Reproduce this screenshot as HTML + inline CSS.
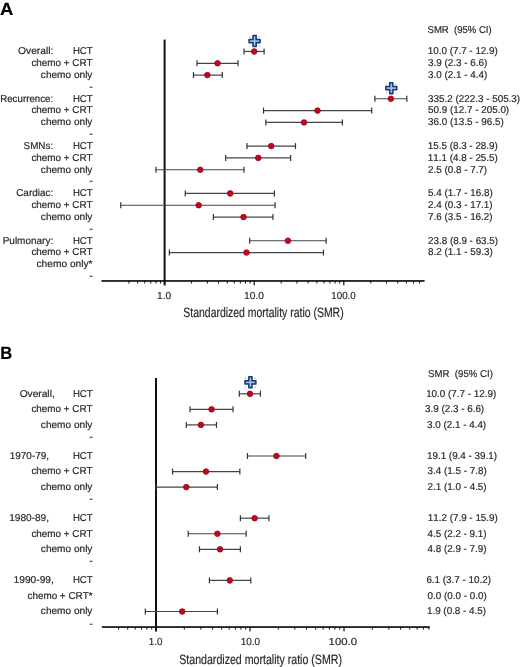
<!DOCTYPE html>
<html><head><meta charset="utf-8"><style>
html,body{margin:0;padding:0;background:#fff;width:520px;height:667px;overflow:hidden}
svg{filter:blur(0.3px)}
body{position:relative;font-family:"Liberation Sans",sans-serif}
svg text{font-family:"Liberation Sans",sans-serif;white-space:pre;font-kerning:none;text-rendering:geometricPrecision}
</style></head><body>
<svg width="520" height="667" viewBox="0 0 520 667" style="position:absolute;left:0;top:0">
<text x="0.04" y="14.60" font-size="17.6" textLength="13.35" lengthAdjust="spacingAndGlyphs" font-weight="bold" fill="#000" stroke="#000" stroke-width="0.2">A</text>
<text x="0.19" y="358.60" font-size="17.8" textLength="11.96" lengthAdjust="spacingAndGlyphs" font-weight="bold" fill="#000" stroke="#000" stroke-width="0.2">B</text>
<rect x="163.60" y="39.60" width="2" height="245.70" fill="#111"/>
<rect x="101.50" y="280.10" width="323.10" height="1.7" fill="#111"/>
<rect x="128.44" y="280.90" width="1" height="2.6" fill="#111"/>
<rect x="137.13" y="280.90" width="1" height="2.6" fill="#111"/>
<rect x="144.22" y="280.90" width="1" height="2.6" fill="#111"/>
<rect x="150.22" y="280.90" width="1" height="2.6" fill="#111"/>
<rect x="155.42" y="280.90" width="1" height="2.6" fill="#111"/>
<rect x="160.00" y="280.90" width="1" height="2.6" fill="#111"/>
<rect x="164.00" y="280.90" width="1.2" height="4.4" fill="#111"/>
<rect x="191.07" y="280.90" width="1" height="2.6" fill="#111"/>
<rect x="206.85" y="280.90" width="1" height="2.6" fill="#111"/>
<rect x="218.04" y="280.90" width="1" height="2.6" fill="#111"/>
<rect x="226.73" y="280.90" width="1" height="2.6" fill="#111"/>
<rect x="233.82" y="280.90" width="1" height="2.6" fill="#111"/>
<rect x="239.82" y="280.90" width="1" height="2.6" fill="#111"/>
<rect x="245.02" y="280.90" width="1" height="2.6" fill="#111"/>
<rect x="249.60" y="280.90" width="1" height="2.6" fill="#111"/>
<rect x="253.60" y="280.90" width="1.2" height="4.4" fill="#111"/>
<rect x="280.67" y="280.90" width="1" height="2.6" fill="#111"/>
<rect x="296.45" y="280.90" width="1" height="2.6" fill="#111"/>
<rect x="307.64" y="280.90" width="1" height="2.6" fill="#111"/>
<rect x="316.33" y="280.90" width="1" height="2.6" fill="#111"/>
<rect x="323.42" y="280.90" width="1" height="2.6" fill="#111"/>
<rect x="329.42" y="280.90" width="1" height="2.6" fill="#111"/>
<rect x="334.62" y="280.90" width="1" height="2.6" fill="#111"/>
<rect x="339.20" y="280.90" width="1" height="2.6" fill="#111"/>
<rect x="343.20" y="280.90" width="1.2" height="4.4" fill="#111"/>
<rect x="370.27" y="280.90" width="1" height="2.6" fill="#111"/>
<rect x="386.05" y="280.90" width="1" height="2.6" fill="#111"/>
<rect x="397.24" y="280.90" width="1" height="2.6" fill="#111"/>
<rect x="405.93" y="280.90" width="1" height="2.6" fill="#111"/>
<rect x="413.02" y="280.90" width="1" height="2.6" fill="#111"/>
<rect x="419.02" y="280.90" width="1" height="2.6" fill="#111"/>
<text x="157.02" y="298.60" font-size="10.2" textLength="14.18" lengthAdjust="spacingAndGlyphs" fill="#2a2a2a" stroke="#2a2a2a" stroke-width="0.2">1.0</text>
<text x="244.02" y="298.60" font-size="10.2" textLength="19.98" lengthAdjust="spacingAndGlyphs" fill="#2a2a2a" stroke="#2a2a2a" stroke-width="0.2">10.0</text>
<text x="331.25" y="298.60" font-size="10.2" textLength="24.53" lengthAdjust="spacingAndGlyphs" fill="#2a2a2a" stroke="#2a2a2a" stroke-width="0.2">100.0</text>
<text x="183.33" y="317.30" font-size="13.6" textLength="160.32" lengthAdjust="spacingAndGlyphs" fill="#2a2a2a" stroke="#2a2a2a" stroke-width="0.2">Standardized mortality ratio (SMR)</text>
<text x="427.57" y="33.10" font-size="10.0" textLength="64.02" lengthAdjust="spacingAndGlyphs" fill="#2a2a2a" stroke="#2a2a2a" stroke-width="0.2">SMR  (95% CI)</text>
<text x="72.91" y="54.25" font-size="10.0" textLength="19.71" lengthAdjust="spacingAndGlyphs" fill="#2a2a2a" stroke="#2a2a2a" stroke-width="0.2">HCT</text>
<line x1="244.03" y1="51.45" x2="264.11" y2="51.45" stroke="#444" stroke-width="1.2"/>
<line x1="244.03" y1="48.45" x2="244.03" y2="54.45" stroke="#333" stroke-width="1.2"/>
<line x1="264.11" y1="48.45" x2="264.11" y2="54.45" stroke="#333" stroke-width="1.2"/>
<circle cx="254.20" cy="51.45" r="2.8" fill="#c4061f" stroke="#95001a" stroke-width="0.8"/>
<path d="M253.00,35.60 L256.20,35.60 L256.20,39.50 L260.10,39.50 L260.10,42.70 L256.20,42.70 L256.20,46.60 L253.00,46.60 L253.00,42.70 L249.10,42.70 L249.10,39.50 L253.00,39.50 Z" fill="#6e95d2" stroke="#1c3a72" stroke-width="1.5" stroke-linejoin="round"/>
<path d="M254.60,36.60 V45.60 M250.10,41.10 H259.10" stroke="#b4cbf2" stroke-width="0.9" fill="none"/>
<circle cx="249.80" cy="36.90" r="0.55" fill="#4a5f86" opacity="0.7"/>
<circle cx="259.20" cy="36.90" r="0.55" fill="#4a5f86" opacity="0.7"/>
<circle cx="249.80" cy="45.70" r="0.55" fill="#4a5f86" opacity="0.7"/>
<circle cx="259.20" cy="45.90" r="0.55" fill="#4a5f86" opacity="0.7"/>
<text x="31.38" y="66.08" font-size="10.0" textLength="61.25" lengthAdjust="spacingAndGlyphs" fill="#2a2a2a" stroke="#2a2a2a" stroke-width="0.2">chemo + CRT</text>
<line x1="197.01" y1="63.28" x2="238.03" y2="63.28" stroke="#444" stroke-width="1.2"/>
<line x1="197.01" y1="60.28" x2="197.01" y2="66.28" stroke="#333" stroke-width="1.2"/>
<line x1="238.03" y1="60.28" x2="238.03" y2="66.28" stroke="#333" stroke-width="1.2"/>
<circle cx="217.56" cy="63.28" r="2.8" fill="#c4061f" stroke="#95001a" stroke-width="0.8"/>
<text x="40.87" y="77.91" font-size="10.0" textLength="51.55" lengthAdjust="spacingAndGlyphs" fill="#2a2a2a" stroke="#2a2a2a" stroke-width="0.2">chemo only</text>
<line x1="193.47" y1="75.11" x2="222.25" y2="75.11" stroke="#444" stroke-width="1.2"/>
<line x1="193.47" y1="72.11" x2="193.47" y2="78.11" stroke="#333" stroke-width="1.2"/>
<line x1="222.25" y1="72.11" x2="222.25" y2="78.11" stroke="#333" stroke-width="1.2"/>
<circle cx="207.35" cy="75.11" r="2.8" fill="#c4061f" stroke="#95001a" stroke-width="0.8"/>
<text x="89.56" y="89.74" font-size="10.0" textLength="3.28" lengthAdjust="spacingAndGlyphs" fill="#2a2a2a" stroke="#2a2a2a" stroke-width="0.2">-</text>
<text x="72.91" y="101.57" font-size="10.0" textLength="19.71" lengthAdjust="spacingAndGlyphs" fill="#2a2a2a" stroke="#2a2a2a" stroke-width="0.2">HCT</text>
<line x1="374.89" y1="98.77" x2="406.84" y2="98.77" stroke="#444" stroke-width="1.2"/>
<line x1="374.89" y1="95.77" x2="374.89" y2="101.77" stroke="#333" stroke-width="1.2"/>
<line x1="406.84" y1="95.77" x2="406.84" y2="101.77" stroke="#333" stroke-width="1.2"/>
<circle cx="390.87" cy="98.77" r="2.8" fill="#c4061f" stroke="#95001a" stroke-width="0.8"/>
<path d="M389.67,82.67 L392.87,82.67 L392.87,86.57 L396.77,86.57 L396.77,89.77 L392.87,89.77 L392.87,93.67 L389.67,93.67 L389.67,89.77 L385.77,89.77 L385.77,86.57 L389.67,86.57 Z" fill="#6e95d2" stroke="#1c3a72" stroke-width="1.5" stroke-linejoin="round"/>
<path d="M391.27,83.67 V92.67 M386.77,88.17 H395.77" stroke="#b4cbf2" stroke-width="0.9" fill="none"/>
<circle cx="386.47" cy="83.97" r="0.55" fill="#4a5f86" opacity="0.7"/>
<circle cx="395.87" cy="83.97" r="0.55" fill="#4a5f86" opacity="0.7"/>
<circle cx="386.47" cy="92.77" r="0.55" fill="#4a5f86" opacity="0.7"/>
<circle cx="395.87" cy="92.97" r="0.55" fill="#4a5f86" opacity="0.7"/>
<text x="31.38" y="113.40" font-size="10.0" textLength="61.25" lengthAdjust="spacingAndGlyphs" fill="#2a2a2a" stroke="#2a2a2a" stroke-width="0.2">chemo + CRT</text>
<line x1="263.50" y1="110.60" x2="371.73" y2="110.60" stroke="#444" stroke-width="1.2"/>
<line x1="263.50" y1="107.60" x2="263.50" y2="113.60" stroke="#333" stroke-width="1.2"/>
<line x1="371.73" y1="107.60" x2="371.73" y2="113.60" stroke="#333" stroke-width="1.2"/>
<circle cx="317.52" cy="110.60" r="2.8" fill="#c4061f" stroke="#95001a" stroke-width="0.8"/>
<text x="40.87" y="125.23" font-size="10.0" textLength="51.55" lengthAdjust="spacingAndGlyphs" fill="#2a2a2a" stroke="#2a2a2a" stroke-width="0.2">chemo only</text>
<line x1="265.88" y1="122.43" x2="342.41" y2="122.43" stroke="#444" stroke-width="1.2"/>
<line x1="265.88" y1="119.43" x2="265.88" y2="125.43" stroke="#333" stroke-width="1.2"/>
<line x1="342.41" y1="119.43" x2="342.41" y2="125.43" stroke="#333" stroke-width="1.2"/>
<circle cx="304.04" cy="122.43" r="2.8" fill="#c4061f" stroke="#95001a" stroke-width="0.8"/>
<text x="89.56" y="137.06" font-size="10.0" textLength="3.28" lengthAdjust="spacingAndGlyphs" fill="#2a2a2a" stroke="#2a2a2a" stroke-width="0.2">-</text>
<text x="72.91" y="148.89" font-size="10.0" textLength="19.71" lengthAdjust="spacingAndGlyphs" fill="#2a2a2a" stroke="#2a2a2a" stroke-width="0.2">HCT</text>
<line x1="246.95" y1="146.09" x2="295.50" y2="146.09" stroke="#444" stroke-width="1.2"/>
<line x1="246.95" y1="143.09" x2="246.95" y2="149.09" stroke="#333" stroke-width="1.2"/>
<line x1="295.50" y1="143.09" x2="295.50" y2="149.09" stroke="#333" stroke-width="1.2"/>
<circle cx="271.25" cy="146.09" r="2.8" fill="#c4061f" stroke="#95001a" stroke-width="0.8"/>
<text x="31.38" y="160.72" font-size="10.0" textLength="61.25" lengthAdjust="spacingAndGlyphs" fill="#2a2a2a" stroke="#2a2a2a" stroke-width="0.2">chemo + CRT</text>
<line x1="225.64" y1="157.92" x2="290.63" y2="157.92" stroke="#444" stroke-width="1.2"/>
<line x1="225.64" y1="154.92" x2="225.64" y2="160.92" stroke="#333" stroke-width="1.2"/>
<line x1="290.63" y1="154.92" x2="290.63" y2="160.92" stroke="#333" stroke-width="1.2"/>
<circle cx="258.26" cy="157.92" r="2.8" fill="#c4061f" stroke="#95001a" stroke-width="0.8"/>
<text x="40.87" y="172.55" font-size="10.0" textLength="51.55" lengthAdjust="spacingAndGlyphs" fill="#2a2a2a" stroke="#2a2a2a" stroke-width="0.2">chemo only</text>
<line x1="155.92" y1="169.75" x2="244.03" y2="169.75" stroke="#444" stroke-width="1.2"/>
<line x1="155.92" y1="166.75" x2="155.92" y2="172.75" stroke="#333" stroke-width="1.2"/>
<line x1="244.03" y1="166.75" x2="244.03" y2="172.75" stroke="#333" stroke-width="1.2"/>
<circle cx="200.26" cy="169.75" r="2.8" fill="#c4061f" stroke="#95001a" stroke-width="0.8"/>
<text x="89.56" y="184.38" font-size="10.0" textLength="3.28" lengthAdjust="spacingAndGlyphs" fill="#2a2a2a" stroke="#2a2a2a" stroke-width="0.2">-</text>
<text x="72.91" y="196.21" font-size="10.0" textLength="19.71" lengthAdjust="spacingAndGlyphs" fill="#2a2a2a" stroke="#2a2a2a" stroke-width="0.2">HCT</text>
<line x1="185.25" y1="193.41" x2="274.39" y2="193.41" stroke="#444" stroke-width="1.2"/>
<line x1="185.25" y1="190.41" x2="185.25" y2="196.41" stroke="#333" stroke-width="1.2"/>
<line x1="274.39" y1="190.41" x2="274.39" y2="196.41" stroke="#333" stroke-width="1.2"/>
<circle cx="230.22" cy="193.41" r="2.8" fill="#c4061f" stroke="#95001a" stroke-width="0.8"/>
<text x="31.38" y="208.04" font-size="10.0" textLength="61.25" lengthAdjust="spacingAndGlyphs" fill="#2a2a2a" stroke="#2a2a2a" stroke-width="0.2">chemo + CRT</text>
<line x1="120.74" y1="205.24" x2="275.08" y2="205.24" stroke="#444" stroke-width="1.2"/>
<line x1="120.74" y1="202.24" x2="120.74" y2="208.24" stroke="#333" stroke-width="1.2"/>
<line x1="275.08" y1="202.24" x2="275.08" y2="208.24" stroke="#333" stroke-width="1.2"/>
<circle cx="198.67" cy="205.24" r="2.8" fill="#c4061f" stroke="#95001a" stroke-width="0.8"/>
<text x="40.87" y="219.87" font-size="10.0" textLength="51.55" lengthAdjust="spacingAndGlyphs" fill="#2a2a2a" stroke="#2a2a2a" stroke-width="0.2">chemo only</text>
<line x1="213.35" y1="217.07" x2="272.97" y2="217.07" stroke="#444" stroke-width="1.2"/>
<line x1="213.35" y1="214.07" x2="213.35" y2="220.07" stroke="#333" stroke-width="1.2"/>
<line x1="272.97" y1="214.07" x2="272.97" y2="220.07" stroke="#333" stroke-width="1.2"/>
<circle cx="243.52" cy="217.07" r="2.8" fill="#c4061f" stroke="#95001a" stroke-width="0.8"/>
<text x="89.56" y="231.70" font-size="10.0" textLength="3.28" lengthAdjust="spacingAndGlyphs" fill="#2a2a2a" stroke="#2a2a2a" stroke-width="0.2">-</text>
<text x="72.91" y="243.53" font-size="10.0" textLength="19.71" lengthAdjust="spacingAndGlyphs" fill="#2a2a2a" stroke="#2a2a2a" stroke-width="0.2">HCT</text>
<line x1="249.67" y1="240.73" x2="326.13" y2="240.73" stroke="#444" stroke-width="1.2"/>
<line x1="249.67" y1="237.73" x2="249.67" y2="243.73" stroke="#333" stroke-width="1.2"/>
<line x1="326.13" y1="237.73" x2="326.13" y2="243.73" stroke="#333" stroke-width="1.2"/>
<circle cx="287.94" cy="240.73" r="2.8" fill="#c4061f" stroke="#95001a" stroke-width="0.8"/>
<text x="31.38" y="255.36" font-size="10.0" textLength="61.25" lengthAdjust="spacingAndGlyphs" fill="#2a2a2a" stroke="#2a2a2a" stroke-width="0.2">chemo + CRT</text>
<line x1="169.36" y1="252.56" x2="323.47" y2="252.56" stroke="#444" stroke-width="1.2"/>
<line x1="169.36" y1="249.56" x2="169.36" y2="255.56" stroke="#333" stroke-width="1.2"/>
<line x1="323.47" y1="249.56" x2="323.47" y2="255.56" stroke="#333" stroke-width="1.2"/>
<circle cx="246.48" cy="252.56" r="2.8" fill="#c4061f" stroke="#95001a" stroke-width="0.8"/>
<text x="36.47" y="267.19" font-size="10.0" textLength="56.09" lengthAdjust="spacingAndGlyphs" fill="#2a2a2a" stroke="#2a2a2a" stroke-width="0.2">chemo only*</text>
<text x="89.56" y="279.02" font-size="10.0" textLength="3.28" lengthAdjust="spacingAndGlyphs" fill="#2a2a2a" stroke="#2a2a2a" stroke-width="0.2">-</text>
<text x="427.75" y="54.25" font-size="10.0" textLength="70.09" lengthAdjust="spacingAndGlyphs" fill="#2a2a2a" stroke="#2a2a2a" stroke-width="0.2">10.0 (7.7 - 12.9)</text>
<text x="428.12" y="66.08" font-size="10.0" textLength="59.13" lengthAdjust="spacingAndGlyphs" fill="#2a2a2a" stroke="#2a2a2a" stroke-width="0.2">3.9 (2.3 - 6.6)</text>
<text x="428.12" y="77.91" font-size="10.0" textLength="59.13" lengthAdjust="spacingAndGlyphs" fill="#2a2a2a" stroke="#2a2a2a" stroke-width="0.2">3.0 (2.1 - 4.4)</text>
<text x="428.12" y="101.57" font-size="10.0" textLength="92.00" lengthAdjust="spacingAndGlyphs" fill="#2a2a2a" stroke="#2a2a2a" stroke-width="0.2">335.2 (222.3 - 505.3)</text>
<text x="428.11" y="113.40" font-size="10.0" textLength="81.04" lengthAdjust="spacingAndGlyphs" fill="#2a2a2a" stroke="#2a2a2a" stroke-width="0.2">50.9 (12.7 - 205.0)</text>
<text x="428.12" y="125.23" font-size="10.0" textLength="75.56" lengthAdjust="spacingAndGlyphs" fill="#2a2a2a" stroke="#2a2a2a" stroke-width="0.2">36.0 (13.5 - 96.5)</text>
<text x="427.75" y="148.89" font-size="10.0" textLength="70.09" lengthAdjust="spacingAndGlyphs" fill="#2a2a2a" stroke="#2a2a2a" stroke-width="0.2">15.5 (8.3 - 28.9)</text>
<text x="427.75" y="160.72" font-size="10.0" textLength="70.09" lengthAdjust="spacingAndGlyphs" fill="#2a2a2a" stroke="#2a2a2a" stroke-width="0.2">11.1 (4.8 - 25.5)</text>
<text x="428.00" y="172.55" font-size="10.0" textLength="59.13" lengthAdjust="spacingAndGlyphs" fill="#2a2a2a" stroke="#2a2a2a" stroke-width="0.2">2.5 (0.8 - 7.7)</text>
<text x="428.11" y="196.21" font-size="10.0" textLength="64.61" lengthAdjust="spacingAndGlyphs" fill="#2a2a2a" stroke="#2a2a2a" stroke-width="0.2">5.4 (1.7 - 16.8)</text>
<text x="428.00" y="208.04" font-size="10.0" textLength="64.61" lengthAdjust="spacingAndGlyphs" fill="#2a2a2a" stroke="#2a2a2a" stroke-width="0.2">2.4 (0.3 - 17.1)</text>
<text x="427.99" y="219.87" font-size="10.0" textLength="64.61" lengthAdjust="spacingAndGlyphs" fill="#2a2a2a" stroke="#2a2a2a" stroke-width="0.2">7.6 (3.5 - 16.2)</text>
<text x="428.00" y="243.53" font-size="10.0" textLength="70.09" lengthAdjust="spacingAndGlyphs" fill="#2a2a2a" stroke="#2a2a2a" stroke-width="0.2">23.8 (8.9 - 63.5)</text>
<text x="428.07" y="255.36" font-size="10.0" textLength="64.61" lengthAdjust="spacingAndGlyphs" fill="#2a2a2a" stroke="#2a2a2a" stroke-width="0.2">8.2 (1.1 - 59.3)</text>
<text x="18.12" y="54.25" font-size="10.0" textLength="35.22" lengthAdjust="spacingAndGlyphs" fill="#2a2a2a" stroke="#2a2a2a" stroke-width="0.2">Overall:</text>
<text x="0.20" y="101.57" font-size="10.0" textLength="52.99" lengthAdjust="spacingAndGlyphs" fill="#2a2a2a" stroke="#2a2a2a" stroke-width="0.2">Recurrence:</text>
<text x="23.55" y="148.89" font-size="10.0" textLength="29.65" lengthAdjust="spacingAndGlyphs" fill="#2a2a2a" stroke="#2a2a2a" stroke-width="0.2">SMNs:</text>
<text x="16.20" y="196.21" font-size="10.0" textLength="37.01" lengthAdjust="spacingAndGlyphs" fill="#2a2a2a" stroke="#2a2a2a" stroke-width="0.2">Cardiac:</text>
<text x="2.68" y="243.53" font-size="10.0" textLength="50.53" lengthAdjust="spacingAndGlyphs" fill="#2a2a2a" stroke="#2a2a2a" stroke-width="0.2">Pulmonary:</text>
<rect x="155.00" y="378.00" width="2" height="253.40" fill="#111"/>
<rect x="101.90" y="626.20" width="327.80" height="1.7" fill="#111"/>
<rect x="118.09" y="627.00" width="1" height="2.6" fill="#111"/>
<rect x="127.20" y="627.00" width="1" height="2.6" fill="#111"/>
<rect x="134.65" y="627.00" width="1" height="2.6" fill="#111"/>
<rect x="140.94" y="627.00" width="1" height="2.6" fill="#111"/>
<rect x="146.39" y="627.00" width="1" height="2.6" fill="#111"/>
<rect x="151.20" y="627.00" width="1" height="2.6" fill="#111"/>
<rect x="155.40" y="627.00" width="1.2" height="4.4" fill="#111"/>
<rect x="183.80" y="627.00" width="1" height="2.6" fill="#111"/>
<rect x="200.35" y="627.00" width="1" height="2.6" fill="#111"/>
<rect x="212.09" y="627.00" width="1" height="2.6" fill="#111"/>
<rect x="221.20" y="627.00" width="1" height="2.6" fill="#111"/>
<rect x="228.65" y="627.00" width="1" height="2.6" fill="#111"/>
<rect x="234.94" y="627.00" width="1" height="2.6" fill="#111"/>
<rect x="240.39" y="627.00" width="1" height="2.6" fill="#111"/>
<rect x="245.20" y="627.00" width="1" height="2.6" fill="#111"/>
<rect x="249.40" y="627.00" width="1.2" height="4.4" fill="#111"/>
<rect x="277.80" y="627.00" width="1" height="2.6" fill="#111"/>
<rect x="294.35" y="627.00" width="1" height="2.6" fill="#111"/>
<rect x="306.09" y="627.00" width="1" height="2.6" fill="#111"/>
<rect x="315.20" y="627.00" width="1" height="2.6" fill="#111"/>
<rect x="322.65" y="627.00" width="1" height="2.6" fill="#111"/>
<rect x="328.94" y="627.00" width="1" height="2.6" fill="#111"/>
<rect x="334.39" y="627.00" width="1" height="2.6" fill="#111"/>
<rect x="339.20" y="627.00" width="1" height="2.6" fill="#111"/>
<rect x="343.40" y="627.00" width="1.2" height="4.4" fill="#111"/>
<rect x="371.80" y="627.00" width="1" height="2.6" fill="#111"/>
<rect x="388.35" y="627.00" width="1" height="2.6" fill="#111"/>
<rect x="400.09" y="627.00" width="1" height="2.6" fill="#111"/>
<rect x="409.20" y="627.00" width="1" height="2.6" fill="#111"/>
<rect x="416.65" y="627.00" width="1" height="2.6" fill="#111"/>
<rect x="422.94" y="627.00" width="1" height="2.6" fill="#111"/>
<rect x="428.39" y="627.00" width="1" height="2.6" fill="#111"/>
<text x="148.75" y="644.80" font-size="10.2" textLength="13.63" lengthAdjust="spacingAndGlyphs" fill="#2a2a2a" stroke="#2a2a2a" stroke-width="0.2">1.0</text>
<text x="240.74" y="644.80" font-size="10.2" textLength="19.35" lengthAdjust="spacingAndGlyphs" fill="#2a2a2a" stroke="#2a2a2a" stroke-width="0.2">10.0</text>
<text x="328.64" y="644.80" font-size="10.2" textLength="28.41" lengthAdjust="spacingAndGlyphs" fill="#2a2a2a" stroke="#2a2a2a" stroke-width="0.2">100.0</text>
<text x="179.22" y="664.00" font-size="13.6" textLength="162.74" lengthAdjust="spacingAndGlyphs" fill="#2a2a2a" stroke="#2a2a2a" stroke-width="0.2">Standardized mortality ratio (SMR)</text>
<text x="428.06" y="377.30" font-size="10.0" textLength="64.84" lengthAdjust="spacingAndGlyphs" fill="#2a2a2a" stroke="#2a2a2a" stroke-width="0.2">SMR  (95% CI)</text>
<text x="72.91" y="396.60" font-size="10.0" textLength="19.71" lengthAdjust="spacingAndGlyphs" fill="#2a2a2a" stroke="#2a2a2a" stroke-width="0.2">HCT</text>
<line x1="239.33" y1="393.80" x2="260.40" y2="393.80" stroke="#444" stroke-width="1.2"/>
<line x1="239.33" y1="390.80" x2="239.33" y2="396.80" stroke="#333" stroke-width="1.2"/>
<line x1="260.40" y1="390.80" x2="260.40" y2="396.80" stroke="#333" stroke-width="1.2"/>
<circle cx="250.00" cy="393.80" r="2.8" fill="#c4061f" stroke="#95001a" stroke-width="0.8"/>
<path d="M248.80,376.85 L252.00,376.85 L252.00,380.75 L255.90,380.75 L255.90,383.95 L252.00,383.95 L252.00,387.85 L248.80,387.85 L248.80,383.95 L244.90,383.95 L244.90,380.75 L248.80,380.75 Z" fill="#6e95d2" stroke="#1c3a72" stroke-width="1.5" stroke-linejoin="round"/>
<path d="M250.40,377.85 V386.85 M245.90,382.35 H254.90" stroke="#b4cbf2" stroke-width="0.9" fill="none"/>
<circle cx="245.60" cy="378.15" r="0.55" fill="#4a5f86" opacity="0.7"/>
<circle cx="255.00" cy="378.15" r="0.55" fill="#4a5f86" opacity="0.7"/>
<circle cx="245.60" cy="386.95" r="0.55" fill="#4a5f86" opacity="0.7"/>
<circle cx="255.00" cy="387.15" r="0.55" fill="#4a5f86" opacity="0.7"/>
<text x="31.38" y="412.15" font-size="10.0" textLength="61.25" lengthAdjust="spacingAndGlyphs" fill="#2a2a2a" stroke="#2a2a2a" stroke-width="0.2">chemo + CRT</text>
<line x1="190.00" y1="409.35" x2="233.04" y2="409.35" stroke="#444" stroke-width="1.2"/>
<line x1="190.00" y1="406.35" x2="190.00" y2="412.35" stroke="#333" stroke-width="1.2"/>
<line x1="233.04" y1="406.35" x2="233.04" y2="412.35" stroke="#333" stroke-width="1.2"/>
<circle cx="211.56" cy="409.35" r="2.8" fill="#c4061f" stroke="#95001a" stroke-width="0.8"/>
<text x="40.87" y="427.70" font-size="10.0" textLength="51.55" lengthAdjust="spacingAndGlyphs" fill="#2a2a2a" stroke="#2a2a2a" stroke-width="0.2">chemo only</text>
<line x1="186.29" y1="424.90" x2="216.48" y2="424.90" stroke="#444" stroke-width="1.2"/>
<line x1="186.29" y1="421.90" x2="186.29" y2="427.90" stroke="#333" stroke-width="1.2"/>
<line x1="216.48" y1="421.90" x2="216.48" y2="427.90" stroke="#333" stroke-width="1.2"/>
<circle cx="200.85" cy="424.90" r="2.8" fill="#c4061f" stroke="#95001a" stroke-width="0.8"/>
<text x="89.56" y="440.05" font-size="10.0" textLength="3.28" lengthAdjust="spacingAndGlyphs" fill="#2a2a2a" stroke="#2a2a2a" stroke-width="0.2">-</text>
<text x="72.91" y="458.80" font-size="10.0" textLength="19.71" lengthAdjust="spacingAndGlyphs" fill="#2a2a2a" stroke="#2a2a2a" stroke-width="0.2">HCT</text>
<line x1="247.47" y1="456.00" x2="305.66" y2="456.00" stroke="#444" stroke-width="1.2"/>
<line x1="247.47" y1="453.00" x2="247.47" y2="459.00" stroke="#333" stroke-width="1.2"/>
<line x1="305.66" y1="453.00" x2="305.66" y2="459.00" stroke="#333" stroke-width="1.2"/>
<circle cx="276.42" cy="456.00" r="2.8" fill="#c4061f" stroke="#95001a" stroke-width="0.8"/>
<text x="31.38" y="474.35" font-size="10.0" textLength="61.25" lengthAdjust="spacingAndGlyphs" fill="#2a2a2a" stroke="#2a2a2a" stroke-width="0.2">chemo + CRT</text>
<line x1="172.55" y1="471.55" x2="239.86" y2="471.55" stroke="#444" stroke-width="1.2"/>
<line x1="172.55" y1="468.55" x2="172.55" y2="474.55" stroke="#333" stroke-width="1.2"/>
<line x1="239.86" y1="468.55" x2="239.86" y2="474.55" stroke="#333" stroke-width="1.2"/>
<circle cx="205.96" cy="471.55" r="2.8" fill="#c4061f" stroke="#95001a" stroke-width="0.8"/>
<text x="40.87" y="489.90" font-size="10.0" textLength="51.55" lengthAdjust="spacingAndGlyphs" fill="#2a2a2a" stroke="#2a2a2a" stroke-width="0.2">chemo only</text>
<line x1="156.00" y1="487.10" x2="217.40" y2="487.10" stroke="#444" stroke-width="1.2"/>
<line x1="156.00" y1="484.10" x2="156.00" y2="490.10" stroke="#333" stroke-width="1.2"/>
<line x1="217.40" y1="484.10" x2="217.40" y2="490.10" stroke="#333" stroke-width="1.2"/>
<circle cx="186.29" cy="487.10" r="2.8" fill="#c4061f" stroke="#95001a" stroke-width="0.8"/>
<text x="89.56" y="502.25" font-size="10.0" textLength="3.28" lengthAdjust="spacingAndGlyphs" fill="#2a2a2a" stroke="#2a2a2a" stroke-width="0.2">-</text>
<text x="72.91" y="521.00" font-size="10.0" textLength="19.71" lengthAdjust="spacingAndGlyphs" fill="#2a2a2a" stroke="#2a2a2a" stroke-width="0.2">HCT</text>
<line x1="240.38" y1="518.20" x2="268.93" y2="518.20" stroke="#444" stroke-width="1.2"/>
<line x1="240.38" y1="515.20" x2="240.38" y2="521.20" stroke="#333" stroke-width="1.2"/>
<line x1="268.93" y1="515.20" x2="268.93" y2="521.20" stroke="#333" stroke-width="1.2"/>
<circle cx="254.63" cy="518.20" r="2.8" fill="#c4061f" stroke="#95001a" stroke-width="0.8"/>
<text x="31.38" y="536.55" font-size="10.0" textLength="61.25" lengthAdjust="spacingAndGlyphs" fill="#2a2a2a" stroke="#2a2a2a" stroke-width="0.2">chemo + CRT</text>
<line x1="188.19" y1="533.75" x2="246.15" y2="533.75" stroke="#444" stroke-width="1.2"/>
<line x1="188.19" y1="530.75" x2="188.19" y2="536.75" stroke="#333" stroke-width="1.2"/>
<line x1="246.15" y1="530.75" x2="246.15" y2="536.75" stroke="#333" stroke-width="1.2"/>
<circle cx="217.40" cy="533.75" r="2.8" fill="#c4061f" stroke="#95001a" stroke-width="0.8"/>
<text x="40.87" y="552.10" font-size="10.0" textLength="51.55" lengthAdjust="spacingAndGlyphs" fill="#2a2a2a" stroke="#2a2a2a" stroke-width="0.2">chemo only</text>
<line x1="199.47" y1="549.30" x2="240.38" y2="549.30" stroke="#444" stroke-width="1.2"/>
<line x1="199.47" y1="546.30" x2="199.47" y2="552.30" stroke="#333" stroke-width="1.2"/>
<line x1="240.38" y1="546.30" x2="240.38" y2="552.30" stroke="#333" stroke-width="1.2"/>
<circle cx="220.04" cy="549.30" r="2.8" fill="#c4061f" stroke="#95001a" stroke-width="0.8"/>
<text x="89.56" y="564.45" font-size="10.0" textLength="3.28" lengthAdjust="spacingAndGlyphs" fill="#2a2a2a" stroke="#2a2a2a" stroke-width="0.2">-</text>
<text x="72.91" y="583.20" font-size="10.0" textLength="19.71" lengthAdjust="spacingAndGlyphs" fill="#2a2a2a" stroke="#2a2a2a" stroke-width="0.2">HCT</text>
<line x1="209.41" y1="580.40" x2="250.81" y2="580.40" stroke="#444" stroke-width="1.2"/>
<line x1="209.41" y1="577.40" x2="209.41" y2="583.40" stroke="#333" stroke-width="1.2"/>
<line x1="250.81" y1="577.40" x2="250.81" y2="583.40" stroke="#333" stroke-width="1.2"/>
<circle cx="229.82" cy="580.40" r="2.8" fill="#c4061f" stroke="#95001a" stroke-width="0.8"/>
<text x="27.48" y="598.75" font-size="10.0" textLength="65.07" lengthAdjust="spacingAndGlyphs" fill="#2a2a2a" stroke="#2a2a2a" stroke-width="0.2">chemo + CRT*</text>
<text x="40.87" y="614.30" font-size="10.0" textLength="51.55" lengthAdjust="spacingAndGlyphs" fill="#2a2a2a" stroke="#2a2a2a" stroke-width="0.2">chemo only</text>
<line x1="145.33" y1="611.50" x2="217.40" y2="611.50" stroke="#444" stroke-width="1.2"/>
<line x1="145.33" y1="608.50" x2="145.33" y2="614.50" stroke="#333" stroke-width="1.2"/>
<line x1="217.40" y1="608.50" x2="217.40" y2="614.50" stroke="#333" stroke-width="1.2"/>
<circle cx="182.20" cy="611.50" r="2.8" fill="#c4061f" stroke="#95001a" stroke-width="0.8"/>
<text x="89.56" y="626.65" font-size="10.0" textLength="3.28" lengthAdjust="spacingAndGlyphs" fill="#2a2a2a" stroke="#2a2a2a" stroke-width="0.2">-</text>
<text x="426.15" y="396.60" font-size="10.0" textLength="70.09" lengthAdjust="spacingAndGlyphs" fill="#2a2a2a" stroke="#2a2a2a" stroke-width="0.2">10.0 (7.7 - 12.9)</text>
<text x="425.02" y="412.15" font-size="10.0" textLength="59.13" lengthAdjust="spacingAndGlyphs" fill="#2a2a2a" stroke="#2a2a2a" stroke-width="0.2">3.9 (2.3 - 6.6)</text>
<text x="427.02" y="427.70" font-size="10.0" textLength="59.13" lengthAdjust="spacingAndGlyphs" fill="#2a2a2a" stroke="#2a2a2a" stroke-width="0.2">3.0 (2.1 - 4.4)</text>
<text x="426.95" y="458.80" font-size="10.0" textLength="70.09" lengthAdjust="spacingAndGlyphs" fill="#2a2a2a" stroke="#2a2a2a" stroke-width="0.2">19.1 (9.4 - 39.1)</text>
<text x="427.62" y="474.35" font-size="10.0" textLength="59.13" lengthAdjust="spacingAndGlyphs" fill="#2a2a2a" stroke="#2a2a2a" stroke-width="0.2">3.4 (1.5 - 7.8)</text>
<text x="427.50" y="489.90" font-size="10.0" textLength="59.13" lengthAdjust="spacingAndGlyphs" fill="#2a2a2a" stroke="#2a2a2a" stroke-width="0.2">2.1 (1.0 - 4.5)</text>
<text x="427.75" y="521.00" font-size="10.0" textLength="70.09" lengthAdjust="spacingAndGlyphs" fill="#2a2a2a" stroke="#2a2a2a" stroke-width="0.2">11.2 (7.9 - 15.9)</text>
<text x="427.47" y="536.55" font-size="10.0" textLength="59.13" lengthAdjust="spacingAndGlyphs" fill="#2a2a2a" stroke="#2a2a2a" stroke-width="0.2">4.5 (2.2 - 9.1)</text>
<text x="427.47" y="552.10" font-size="10.0" textLength="59.13" lengthAdjust="spacingAndGlyphs" fill="#2a2a2a" stroke="#2a2a2a" stroke-width="0.2">4.8 (2.9 - 7.9)</text>
<text x="426.40" y="583.20" font-size="10.0" textLength="64.61" lengthAdjust="spacingAndGlyphs" fill="#2a2a2a" stroke="#2a2a2a" stroke-width="0.2">6.1 (3.7 - 10.2)</text>
<text x="427.62" y="598.75" font-size="10.0" textLength="59.13" lengthAdjust="spacingAndGlyphs" fill="#2a2a2a" stroke="#2a2a2a" stroke-width="0.2">0.0 (0.0 - 0.0)</text>
<text x="426.95" y="614.30" font-size="10.0" textLength="59.13" lengthAdjust="spacingAndGlyphs" fill="#2a2a2a" stroke="#2a2a2a" stroke-width="0.2">1.9 (0.8 - 4.5)</text>
<text x="19.72" y="396.60" font-size="10.0" textLength="34.99" lengthAdjust="spacingAndGlyphs" fill="#2a2a2a" stroke="#2a2a2a" stroke-width="0.2">Overall,</text>
<text x="9.84" y="458.80" font-size="10.0" textLength="39.15" lengthAdjust="spacingAndGlyphs" fill="#2a2a2a" stroke="#2a2a2a" stroke-width="0.2">1970-79,</text>
<text x="9.23" y="521.00" font-size="10.0" textLength="39.77" lengthAdjust="spacingAndGlyphs" fill="#2a2a2a" stroke="#2a2a2a" stroke-width="0.2">1980-89,</text>
<text x="13.62" y="583.20" font-size="10.0" textLength="40.19" lengthAdjust="spacingAndGlyphs" fill="#2a2a2a" stroke="#2a2a2a" stroke-width="0.2">1990-99,</text>
</svg>
</body></html>
